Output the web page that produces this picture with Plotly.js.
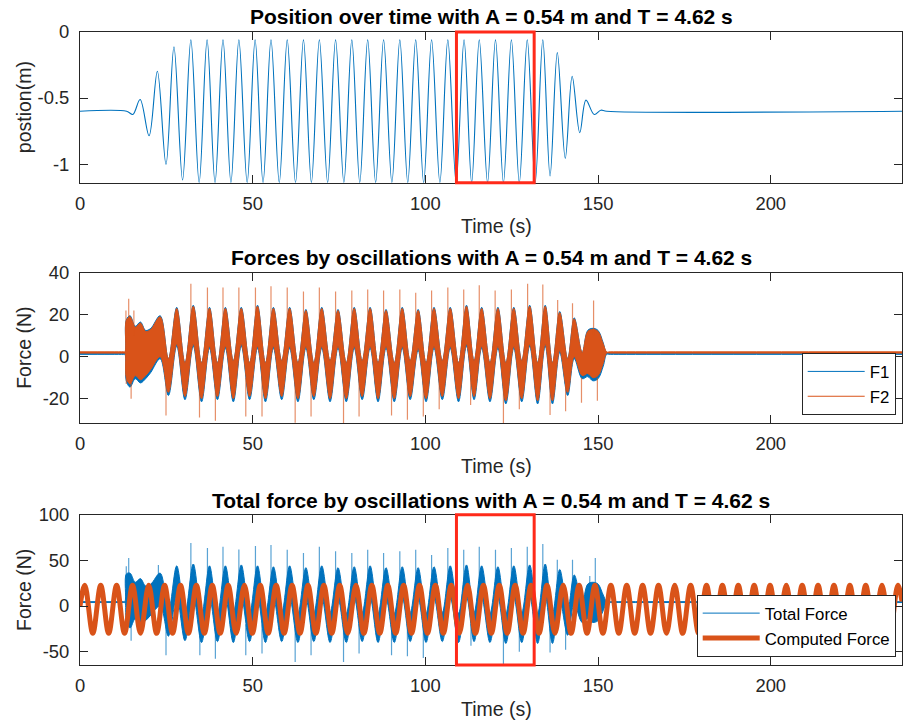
<!DOCTYPE html>
<html><head><meta charset="utf-8">
<script src="https://cdn.plot.ly/plotly-3.0.1.min.js"></script>
<style>html,body{margin:0;padding:0;background:#fff;}#plot{width:903px;height:722px;}</style>
</head><body><div id="plot"></div>
<script>
// ---------- axis limits and ticks ----------
const xRange = [0, 238];
const posRange = [-1.141, 0];
const fRange = [-31.6, 40];
const totRange = [-64.6, 100];
const xTicks = [0, 50, 100, 150, 200];
const xTickText = ['0', '50', '100', '150', '200'];
const posTicks = [-1, -0.5, 0];
const posTickText = ['-1', '-0.5', '0'];
const fTicks = [-20, 0, 20, 40];
const fTickText = ['-20', '0', '20', '40'];
const totTicks = [-50, 0, 50, 100];
const totTickText = ['-50', '0', '50', '100'];
const boxT = [109, 131.5];   // highlighted time window (s)

// ---------- position (m): read extrema of the oscillation ----------
const posT = [0, 13.5, 15.3, 17.4, 20.0, 22.4, 24.9, 27.2, 29.7,
  32.1, 34.5, 36.8, 39.1, 41.4, 43.7, 46.0, 48.4, 50.7, 53.0, 55.3, 57.7, 60.0, 62.4, 64.7, 67.0,
  69.3, 71.7, 74.0, 76.4, 78.7, 81.0, 83.3, 85.6, 87.9, 90.3, 92.6, 94.9, 97.2, 99.5, 101.8, 104.2,
  106.5, 108.9, 111.2, 113.4, 115.6, 118.0, 120.3, 122.6, 124.9, 127.2, 129.5, 131.8, 134.0,
  136.1, 138.2, 140.5, 142.5, 144.7, 146.5, 148.9, 150.8, 152.5, 238];
const posY = [-0.6, -0.6, -0.624, -0.511, -0.786, -0.297, -1.002, -0.113, -1.12,
  -0.06, -1.14, -0.06, -1.14, -0.06, -1.14, -0.06, -1.14, -0.06, -1.14, -0.06, -1.14, -0.06, -1.14, -0.06, -1.14,
  -0.06, -1.14, -0.06, -1.14, -0.06, -1.14, -0.06, -1.14, -0.06, -1.14, -0.06, -1.14, -0.06, -1.14, -0.06, -1.14,
  -0.06, -1.14, -0.06, -1.14, -0.06, -1.14, -0.06, -1.14, -0.06, -1.14, -0.06, -1.14, -0.06,
  -1.09, -0.156, -0.957, -0.335, -0.763, -0.516, -0.625, -0.592, -0.6, -0.6];

// ---------- measured forces: times of read envelope points ----------
const forceT = [0, 12.5, 13.0, 13.4, 14.5, 16.0, 17.5, 19.0, 20.5, 23.2, 25.6, 28.0, 30.4,
  32.8, 35.2, 37.5, 39.8, 42.1, 44.4, 46.7, 49.1, 51.4, 53.7,
  56.0, 58.4, 60.7, 63.1, 65.4, 67.7, 70.0, 72.4, 74.7, 77.1,
  79.4, 81.7, 84.0, 86.3, 88.6, 91.0, 93.3, 95.6, 97.9, 100.2,
  102.5, 104.9, 107.2, 109.6, 111.9, 114.1, 116.3, 118.7, 121.0, 123.3,
  125.6, 127.9, 130.2, 132.5, 134.7, 136.8, 138.9, 141.2, 143.1, 145.4,
  147.0, 148.5, 150.0, 151.5, 152.5, 153.5, 238];
// F1 noisy band (upper / lower edge, N)
const f1Hi = [1.6, 1.6, 1.6, 17.5, 19.5, 14.5, 16.5, 12.5, 13.5, 19.5, -1, 23.5, -3,
  24.5, -3, 23.5, -3, 23.5, -2, 23.5, -3, 24.5, -3,
  23.5, -2, 23.5, -3, 22.5, -3, 23.5, -2, 22.5, -3,
  23.5, -2, 23.5, -3, 22.5, -3, 23.5, -2, 22.5, -3,
  23.5, -2, 23.5, -3, 24.5, -2, 23.5, -3, 23.5, -3,
  23.5, -2, 24.5, -3, 24.5, -3, 21.5, -1, 18.5, 2,
  12.5, 13.5, 12.5, 6.5, 1.6, 1.6, 1.6];
const f1Lo = [1.1, 1.1, 1.1, -11.5, -14.5, -10.5, -12.5, -10.5, -7.5, -1, -18.5, 5, -20.5,
  5, -21.5, 4, -20.5, 4, -21.5, 5, -20.5, 4, -21.5,
  4, -20.5, 4, -21.5, 4, -20.5, 4, -21.5, 4, -21.5,
  4, -20.5, 4, -21.5, 4, -21.5, 4, -20.5, 3, -21.5,
  4, -20.5, 4, -21.5, 5, -20.5, 4, -21.5, 4, -22.5,
  4, -21.5, 5, -22.5, 5, -22.5, 2, -18.5, -1, -10.5,
  -9.5, -11.5, -10.5, -4.5, 1.1, 1.1, 1.1];
// F2 noisy band (upper / lower edge, N)
const f2Hi = [2.3, 2.3, 2.3, 17, 19, 14, 16, 12, 13, 19, -1, 23, -3,
  24, -3, 23, -3, 23, -2, 23, -3, 24, -3,
  23, -2, 23, -3, 22, -3, 23, -2, 22, -3,
  23, -2, 23, -3, 22, -3, 23, -2, 22, -3,
  23, -2, 23, -3, 24, -2, 23, -3, 23, -3,
  23, -2, 24, -3, 24, -3, 21, -1, 18, 2,
  12, 13, 12, 6, 2.3, 2.3, 2.3];
const f2Lo = [1.7, 1.7, 1.7, -10, -13, -9, -11, -9, -6, 0, -17, 6, -19,
  6, -20, 5, -19, 5, -20, 6, -19, 5, -20,
  5, -19, 5, -20, 5, -19, 5, -20, 5, -20,
  5, -19, 5, -20, 5, -20, 5, -19, 4, -20,
  5, -19, 5, -20, 6, -19, 5, -20, 5, -21,
  5, -20, 6, -21, 6, -21, 3, -17, 0, -9,
  -8, -10, -9, -3, 1.7, 1.7, 1.7];
// F2 isolated spikes
const f2SpikeBase = 10;
const f2SpikeUpT = [13.3, 14.1, 15.6, 32.1, 36.9, 41.4, 46.0, 50.8, 55.3, 60.0, 64.7, 69.3, 74.0, 78.7, 83.3,
  87.9, 92.6, 97.2, 101.8, 106.5, 111.1, 115.6, 120.2, 124.9, 129.6, 134.0, 138.3, 142.6, 148.7];
const f2SpikeUpV = [22, 27.6, 22, 34.7, 33, 33, 33, 33, 33.5, 33, 31, 33, 31, 31.5, 32,
  31.5, 32, 30.4, 31.5, 33, 32, 34, 31.5, 32, 34.7, 34.4, 27, 25.5, 26.8];
const f2SpikeDnT = [13.4, 14.8, 24.9, 34.6, 39.2, 48.0, 52.7, 62.3, 66.9, 76.3, 80.8, 90.2, 94.8, 99.4,
  104.0, 113.1, 122.6, 127.2, 136.1, 140.6, 145.2, 149.8];
const f2SpikeDnV = [-13, -20, -28, -29, -30.5, -28.5, -28.5, -31.5, -28.5, -31.6, -28.5, -28, -30, -28.5,
  -25, -23, -31.6, -25, -27.8, -26, -22, -21];

// Total force noisy band (upper / lower edge, N)
const totHi = [4.8, 4.8, 4.8, 35, 36, 26, 30, 22, 24, 36, -5, 44, -8,
  46, -9, 44, -8, 44, -7, 45, -8, 44, -8,
  43, -7, 44, -8, 42, -8, 44, -7, 42, -8,
  43, -7, 44, -8, 42, -8, 43, -7, 42, -8,
  43, -7, 44, -8, 45, -7, 44, -8, 43, -8,
  44, -7, 45, -8, 46, -8, 40, -4, 34, 4,
  24, 26, 24, 12, 4.8, 4.8, 4.8];
const totLo = [3.8, 3.8, 3.8, -15, -24, -14, -20, -16, -10, 0, -33, 10, -38,
  10, -40, 9, -39, 9, -40, 10, -39, 9, -40,
  9, -39, 9, -40, 8, -39, 9, -40, 8, -40,
  9, -39, 9, -40, 8, -40, 9, -39, 8, -40,
  9, -39, 9, -40, 10, -39, 9, -40, 9, -41,
  9, -40, 10, -41, 10, -41, 6, -32, 2, -18,
  -14, -18, -16, -5, 3.8, 3.8, 3.8];
const totSpikeBase = 20;
const totSpikeUpT = [13.4, 14.1, 22.7, 32.1, 36.9, 41.4, 46.0, 50.8, 55.3, 60.0, 64.7, 69.3, 74.0, 78.7, 83.3,
  87.9, 92.6, 97.2, 101.8, 106.5, 111.1, 115.6, 120.3, 124.9, 129.5, 134.0, 138.2, 142.6, 147.6, 149.2];
const totSpikeUpV = [43.5, 52.6, 45, 69, 63.5, 65, 62, 65.8, 66.9, 61.5, 58, 65, 60, 58, 61.5,
  58, 60, 61.5, 56, 63.5, 61.6, 65, 61.6, 63.4, 65, 68, 50.7, 50.7, 33, 52.5];
const totSpikeDnT = [14.8, 24.9, 34.7, 39.2, 48.0, 52.7, 62.3, 66.9, 76.3, 80.8, 90.2, 94.8, 99.4,
  113.2, 122.6, 127.2, 136.1, 140.6];
const totSpikeDnV = [-38, -54, -54, -57.7, -54, -52, -61.2, -54, -61.2, -52, -54, -55, -57,
  -43.5, -64, -50, -51, -48];

// Computed force: read extrema (N)
const compT = [0,
  1.4, 3.7, 6.0, 8.3, 10.6, 12.9, 15.2, 17.5, 19.9, 22.2,
  24.5, 26.8, 29.1, 31.4, 33.7, 36.0, 38.3, 40.6, 42.9, 45.2,
  47.6, 49.9, 52.2, 54.5, 56.8, 59.1, 61.4, 63.7, 66.0, 68.3,
  70.6, 72.9, 75.2, 77.5, 79.9, 82.2, 84.5, 86.8, 89.1, 91.4,
  93.7, 96.0, 98.3, 100.6, 102.9, 105.2, 107.5, 109.8, 112.2, 114.5,
  116.8, 119.1, 121.4, 123.7, 126.0, 128.3, 130.6, 132.9, 135.2, 137.5,
  139.9, 142.2, 144.5, 146.8, 149.1, 151.4, 153.7, 156.0, 158.3, 160.6,
  162.9, 165.2, 167.5, 169.8, 172.2, 174.5, 176.8, 179.1, 181.4, 183.7,
  186.0, 188.3, 190.6, 192.9, 195.2, 197.5, 199.8, 202.1, 204.5, 206.8,
  209.1, 211.4, 213.7, 216.0, 218.3, 220.6, 222.9, 225.2, 227.5, 229.8,
  232.2, 234.5, 236.8, 238];
const compV = [0,
  22.7, -29.9, 22.7, -29.9, 22.7, -29.9, 22.7, -29.9, 22.7, -29.9,
  22.7, -29.9, 22.7, -29.9, 22.7, -29.9, 22.7, -29.9, 22.7, -29.9,
  22.7, -29.9, 22.7, -29.9, 22.7, -29.9, 22.7, -29.9, 22.7, -29.9,
  22.7, -29.9, 22.7, -29.9, 22.7, -29.9, 22.7, -29.9, 22.7, -29.9,
  22.7, -29.9, 22.7, -29.9, 22.7, -29.9, 22.7, -29.9, 22.7, -29.9,
  22.7, -29.9, 22.7, -29.9, 22.7, -29.9, 22.7, -29.9, 22.7, -29.9,
  22.7, -29.9, 22.7, -29.9, 22.7, -29.9, 22.7, -29.9, 22.7, -29.9,
  22.7, -29.9, 22.7, -29.9, 22.7, -29.9, 22.7, -29.9, 22.7, -29.9,
  22.7, -29.9, 22.7, -29.9, 22.7, -29.9, 22.7, -29.9, 22.7, -29.9,
  22.7, -29.9, 22.7, -29.9, 22.7, -29.9, 22.7, -29.9, 22.7, -29.9,
  22.7, -29.9, 22.7, 5];

// ---------- texts ----------
const titleTexts = ['Position over time with A = 0.54 m and T = 4.62 s',
  'Forces by oscillations with A = 0.54 m and T = 4.62 s',
  'Total force by oscillations with A = 0.54 m and T = 4.62 s'];
const yTitleTexts = ['postion(m)', 'Force (N)', 'Force (N)'];
const xTitleText = 'Time (s)';
const seriesNames = ['F1', 'F2', 'Total Force', 'Computed Force'];

// ---------- styling ----------
const FONT = 'Liberation Sans, Arial, Helvetica, sans-serif';
const INK = '#262626';
const BLUE = '#0072BD';
const ORANGE = '#D95319';
const RED = '#FF2A1A';

function spikes(ts, vs, base) {
  const x = [], y = [];
  ts.forEach((t, i) => { x.push(t, t, null); y.push(base, vs[i], null); });
  return { x, y };
}

const sp1 = spikes(f2SpikeUpT, f2SpikeUpV, f2SpikeBase);
const sp2 = spikes(f2SpikeDnT, f2SpikeDnV, -f2SpikeBase);
const sp3 = spikes(totSpikeUpT, totSpikeUpV, totSpikeBase);
const sp4 = spikes(totSpikeDnT, totSpikeDnV, -totSpikeBase);

const spl = { shape: 'spline', smoothing: 1 };

const traces = [
  { x: posT, y: posY, xaxis: 'x', yaxis: 'y', mode: 'lines', showlegend: false,
    line: Object.assign({ color: BLUE, width: 1.1 }, spl), hoverinfo: 'skip' },

  { x: forceT, y: f1Lo, xaxis: 'x2', yaxis: 'y2', mode: 'lines', name: seriesNames[0], legend: 'legend2',
    line: Object.assign({ color: BLUE, width: 1 }, spl) },
  { x: forceT, y: f1Hi, xaxis: 'x2', yaxis: 'y2', mode: 'lines', fill: 'tonexty', fillcolor: BLUE,
    showlegend: false, line: Object.assign({ color: BLUE, width: 1 }, spl) },
  { x: forceT, y: f2Lo, xaxis: 'x2', yaxis: 'y2', mode: 'lines', name: seriesNames[1], legend: 'legend2',
    line: Object.assign({ color: ORANGE, width: 1 }, spl) },
  { x: forceT, y: f2Hi, xaxis: 'x2', yaxis: 'y2', mode: 'lines', fill: 'tonexty', fillcolor: ORANGE,
    showlegend: false, line: Object.assign({ color: ORANGE, width: 1 }, spl) },
  { x: sp1.x, y: sp1.y, xaxis: 'x2', yaxis: 'y2', mode: 'lines', showlegend: false,
    line: { color: 'rgba(217,83,25,0.65)', width: 1.2 } },
  { x: sp2.x, y: sp2.y, xaxis: 'x2', yaxis: 'y2', mode: 'lines', showlegend: false,
    line: { color: 'rgba(217,83,25,0.65)', width: 1.2 } },

  { x: forceT, y: totLo, xaxis: 'x3', yaxis: 'y3', mode: 'lines', name: seriesNames[2], legend: 'legend3',
    line: Object.assign({ color: BLUE, width: 1 }, spl) },
  { x: forceT, y: totHi, xaxis: 'x3', yaxis: 'y3', mode: 'lines', fill: 'tonexty', fillcolor: BLUE,
    showlegend: false, line: Object.assign({ color: BLUE, width: 1 }, spl) },
  { x: sp3.x, y: sp3.y, xaxis: 'x3', yaxis: 'y3', mode: 'lines', showlegend: false,
    line: { color: 'rgba(0,114,189,0.65)', width: 1.2 } },
  { x: sp4.x, y: sp4.y, xaxis: 'x3', yaxis: 'y3', mode: 'lines', showlegend: false,
    line: { color: 'rgba(0,114,189,0.65)', width: 1.2 } },
  { x: compT, y: compV, xaxis: 'x3', yaxis: 'y3', mode: 'lines', name: seriesNames[3], legend: 'legend3',
    line: Object.assign({ color: ORANGE, width: 5 }, spl) }
];

function xax(anchor) {
  return { domain: [0, 1], anchor: anchor, range: xRange, tickvals: xTicks, ticktext: xTickText,
    ticks: 'inside', ticklen: 8, tickwidth: 1, tickcolor: INK, showline: true, linecolor: INK, linewidth: 1,
    mirror: 'ticks', showgrid: false, zeroline: false, automargin: false, ticklabelstandoff: 4,
    tickfont: { family: FONT, size: 18.4, color: INK } };
}
function yax(anchor, domain, range, tv, tt) {
  return { domain: domain, anchor: anchor, range: range, tickvals: tv, ticktext: tt,
    ticks: 'inside', ticklen: 8, tickwidth: 1, tickcolor: INK, showline: true, linecolor: INK, linewidth: 1,
    mirror: 'ticks', showgrid: false, zeroline: false, automargin: false, ticklabelstandoff: 6,
    tickfont: { family: FONT, size: 18.4, color: INK } };
}

// plot area: left 80, right 902, top 32, bottom 665 (px)
const H = 633, TOP = 32;
function py(px) { return (TOP + H - px) / H; }
function pxX(px) { return (px - 80) / 822; }

const annotations = [];
const titleY = [16.5, 257, 500];
titleTexts.forEach((t, i) => annotations.push({ text: '<b>' + t + '</b>', xref: 'paper', yref: 'paper',
  x: 0.5, y: py(titleY[i]), xanchor: 'center', yanchor: 'middle', showarrow: false,
  font: { family: FONT, size: 21, color: '#000' } }));
const yTitleY = [107.2, 347.8, 590];
yTitleTexts.forEach((t, i) => annotations.push({ text: t, xref: 'paper', yref: 'paper',
  x: pxX(24), y: py(yTitleY[i]), xanchor: 'center', yanchor: 'middle', textangle: -90, showarrow: false,
  font: { family: FONT, size: 19.5, color: INK } }));
const xTitleY = [226, 466.3, 708.6];
xTitleY.forEach(v => annotations.push({ text: xTitleText, xref: 'paper', yref: 'paper',
  x: pxX(496), y: py(v), xanchor: 'center', yanchor: 'middle', showarrow: false,
  font: { family: FONT, size: 19.5, color: INK } }));

const legendStyle = { xanchor: 'right', yanchor: 'bottom', bgcolor: '#fff', bordercolor: INK, borderwidth: 1,
  font: { family: FONT, size: 16.8, color: '#000' }, tracegroupgap: 0, itemwidth: 57 };

const layout = {
  width: 903, height: 722,
  margin: { l: 80, r: 1, t: TOP, b: 57, pad: 0 },
  paper_bgcolor: '#fff', plot_bgcolor: '#fff',
  font: { family: FONT, color: INK },
  showlegend: true,
  xaxis: xax('y'), xaxis2: xax('y2'), xaxis3: xax('y3'),
  yaxis: yax('x', [py(182.7), 1], posRange, posTicks, posTickText),
  yaxis2: yax('x2', [py(423), py(272.7)], fRange, fTicks, fTickText),
  yaxis3: yax('x3', [0, py(514.7)], totRange, totTicks, totTickText),
  legend2: Object.assign({ x: pxX(895.7), y: py(415) }, legendStyle),
  legend3: Object.assign({ x: pxX(895.7), y: py(656.7) }, legendStyle),
  shapes: [
    { type: 'rect', xref: 'x', yref: 'y domain', x0: boxT[0], x1: boxT[1], y0: 0, y1: 1,
      line: { color: RED, width: 3 }, layer: 'above' },
    { type: 'rect', xref: 'x3', yref: 'y3 domain', x0: boxT[0], x1: boxT[1], y0: 0, y1: 1,
      line: { color: RED, width: 3 }, layer: 'above' }
  ],
  annotations: annotations
};

Plotly.newPlot('plot', traces, layout, { staticPlot: true, displayModeBar: false });
</script></body></html>
